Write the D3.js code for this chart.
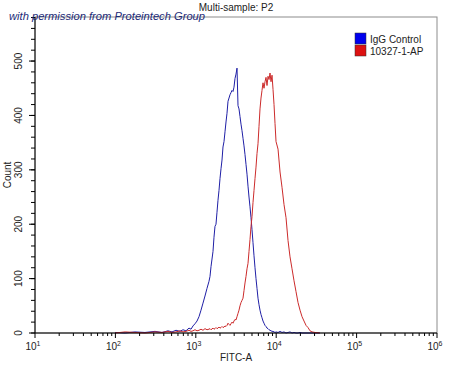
<!DOCTYPE html>
<html>
<head>
<meta charset="utf-8">
<script src="https://cdn.jsdelivr.net/npm/d3@7"></script>
<style>
  body { margin: 0; background: #fff; }
  svg text { font-family: "Liberation Sans", Arial, sans-serif; }
</style>
</head>
<body>
<div id="chart"></div>
<script>
// FITC-A channel (intensity) shared by both histograms
var fitcBins = [99, 132, 175, 233, 311, 380, 451, 506, 567, 636, 693, 755, 823, 872, 923, 977,
  1035, 1096, 1161, 1229, 1301, 1378, 1459, 1502, 1546, 1637, 1684, 1733, 1783, 1835, 1888, 1943,
  2000, 2058, 2118, 2179, 2243, 2308, 2375, 2444, 2515, 2588, 2663, 2741, 2820, 2902, 2986, 3073,
  3163, 3255, 3349, 3447, 3547, 3650, 3756, 3865, 3977, 4093, 4212, 4334, 4460, 4590, 4723, 4861,
  5002, 5147, 5297, 5451, 5609, 5772, 5940, 6113, 6290, 6473, 6661, 6855, 7054, 7259, 7470, 7687,
  7911, 8141, 8377, 8621, 8871, 9129, 9394, 9668, 9949, 10540, 11160, 11810, 12510, 13250, 14030,
  14860, 15730, 16660, 17640, 18680, 19780, 20950, 22180, 23490, 24870, 26340, 27890, 30380, 34900];

// counts, IgG Control
var iggCounts = [1, 0, 2, 1, 3, 1, 4, 2, 5, 3, 6, 4, 9, 7, 13, 17,
  22, 30, 42, 55, 68, 82, 95, 104, 122, 150, 176, 196, 200, 222, 244, 262,
  284, 302, 318, 342, 352, 370, 388, 404, 426, 432, 438, 442, 446, 444, 452, 468,
  476, 487, 418, 412, 398, 384, 372, 358, 344, 328, 310, 292, 270, 250, 232, 212,
  190, 166, 142, 120, 100, 82, 64, 52, 42, 34, 28, 22, 18, 14, 12, 9,
  8, 6, 5, 4, 3, 3, 2, 1, 2, 1, 3, 1, 2, 0, 1,
  2, 0, 1, 0, 0, 1, 0, 0, 0, 0, 0, 0, 0, 0];

// counts, 10327-1-AP
var apCounts = [0, 2, 1, 0, 2, 1, 3, 1, 2, 4, 2, 3, 5, 3, 4, 6,
  4, 5, 7, 5, 8, 6, 7, 8, 6, 9, 7, 8, 10, 8, 9, 11,
  9, 10, 12, 10, 11, 13, 12, 14, 18, 16, 14, 17, 20, 18, 22, 25,
  24, 30, 36, 42, 50, 56, 60, 64, 78, 92, 104, 118, 128, 150, 172, 196,
  214, 240, 262, 284, 305, 330, 348, 380, 412, 432, 446, 460, 450, 462, 470, 455,
  472, 466, 478, 462, 474, 448, 420, 385, 352, 338, 296, 268, 236, 212, 170,
  140, 118, 96, 76, 56, 42, 30, 22, 14, 10, 4, 2, 1, 0];

var seriesNames = ["IgG Control", "10327-1-AP"];
var seriesColors = ["#1f1fa6", "#cc2b2b"];
var legendColors = ["#0000ee", "#dd1111"];
var xTickValues = [10, 100, 1000, 10000, 100000, 1000000];
var xTickExps = ["1", "2", "3", "4", "5", "6"];
var yTickValues = [0, 100, 200, 300, 400, 500];

var width = 450, height = 365;
var margin = {top: 17, right: 13, bottom: 32, left: 35};
var plotW = width - margin.left - margin.right;
var plotH = height - margin.top - margin.bottom;

var svg = d3.select("#chart").append("svg")
    .attr("width", width)
    .attr("height", height);

var x = d3.scaleLog().domain([10, 1000000]).range([0, plotW]);
var y = d3.scaleLinear().domain([0, 581]).range([plotH, 0]);

var g = svg.append("g").attr("transform", "translate(" + margin.left + "," + margin.top + ")");

// gray frame
g.append("rect")
    .attr("x", 0).attr("y", 0)
    .attr("width", plotW).attr("height", plotH)
    .attr("fill", "none")
    .attr("stroke", "#8c8c8c")
    .attr("stroke-width", 1);

// histograms
var series = [iggCounts, apCounts];
var line = d3.line()
    .x(function(d, i){ return x(fitcBins[i]); })
    .y(function(d){ return y(d); });

series.forEach(function(counts, k){
    g.append("path")
        .datum(counts)
        .attr("d", line)
        .attr("fill", "none")
        .attr("stroke", seriesColors[k])
        .attr("stroke-width", 1);
});

// x axis
var xMinor = [];
for (var dec = 10; dec < 1000000; dec *= 10) {
    [2, 3, 4, 5, 6, 7, 8, 9].forEach(function(m){ xMinor.push(dec * m); });
}
var xAxisG = g.append("g").attr("transform", "translate(0," + plotH + ")");
xAxisG.append("line").attr("x1", 0).attr("x2", plotW).attr("stroke", "#000");
xAxisG.selectAll(".xminor").data(xMinor).enter().append("line")
    .attr("x1", function(d){ return x(d); }).attr("x2", function(d){ return x(d); })
    .attr("y1", 0).attr("y2", 3).attr("stroke", "#000");
xAxisG.selectAll(".xmajor").data(xTickValues).enter().append("line")
    .attr("x1", function(d){ return x(d); }).attr("x2", function(d){ return x(d); })
    .attr("y1", 0).attr("y2", 5).attr("stroke", "#000");
var xLab = xAxisG.selectAll(".xlab").data(xTickValues).enter().append("text")
    .attr("x", function(d){ return x(d) - 2; })
    .attr("y", 17)
    .attr("text-anchor", "middle")
    .attr("font-size", 10)
    .attr("fill", "#222");
xLab.append("tspan").text("10");
xLab.append("tspan").attr("dy", -4).attr("font-size", 7)
    .text(function(d, i){ return xTickExps[i]; });

// y axis
var yMinor = d3.range(0, 581, 20);
var yAxisG = g.append("g");
yAxisG.append("line").attr("y1", 0).attr("y2", plotH).attr("stroke", "#000");
yAxisG.selectAll(".yminor").data(yMinor).enter().append("line")
    .attr("y1", function(d){ return y(d); }).attr("y2", function(d){ return y(d); })
    .attr("x1", 0).attr("x2", -4).attr("stroke", "#000");
yAxisG.selectAll(".ymajor").data(yTickValues).enter().append("line")
    .attr("y1", function(d){ return y(d); }).attr("y2", function(d){ return y(d); })
    .attr("x1", 0).attr("x2", -6).attr("stroke", "#000");
yAxisG.selectAll(".ylab").data(yTickValues).enter().append("text")
    .attr("transform", function(d){ return "translate(-13," + y(d) + ") rotate(-90)"; })
    .attr("text-anchor", "middle")
    .attr("font-size", 10)
    .attr("fill", "#222")
    .text(function(d){ return d; });

// axis titles
svg.append("text")
    .attr("transform", "translate(11," + (margin.top + plotH / 2) + ") rotate(-90)")
    .attr("text-anchor", "middle")
    .attr("font-size", 10)
    .attr("fill", "#222")
    .text("Count");
svg.append("text")
    .attr("x", margin.left + plotW / 2)
    .attr("y", 361)
    .attr("text-anchor", "middle")
    .attr("font-size", 10)
    .attr("fill", "#222")
    .text("FITC-A");

// title
svg.append("text")
    .attr("x", margin.left + plotW / 2)
    .attr("y", 11)
    .attr("text-anchor", "middle")
    .attr("font-size", 10)
    .attr("fill", "#222")
    .text("Multi-sample: P2");

// watermark
svg.append("text")
    .attr("x", 9)
    .attr("y", 20)
    .attr("font-family", "'DejaVu Serif', serif")
    .attr("font-style", "italic")
    .attr("font-size", 11)
    .attr("textLength", 196)
    .attr("lengthAdjust", "spacingAndGlyphs")
    .attr("fill", "#1c2a78")
    .text("with permission from Proteintech Group");

// legend
var legend = svg.append("g").attr("transform", "translate(355,33)");
seriesNames.forEach(function(name, k){
    legend.append("rect")
        .attr("x", 0).attr("y", k * 12)
        .attr("width", 11).attr("height", 11)
        .attr("fill", legendColors[k])
        .attr("stroke", "#333").attr("stroke-width", 0.5);
    legend.append("text")
        .attr("x", 15).attr("y", k * 12 + 9.5)
        .attr("font-size", 10)
        .attr("fill", "#222")
        .text(name);
});
</script>
</body>
</html>
